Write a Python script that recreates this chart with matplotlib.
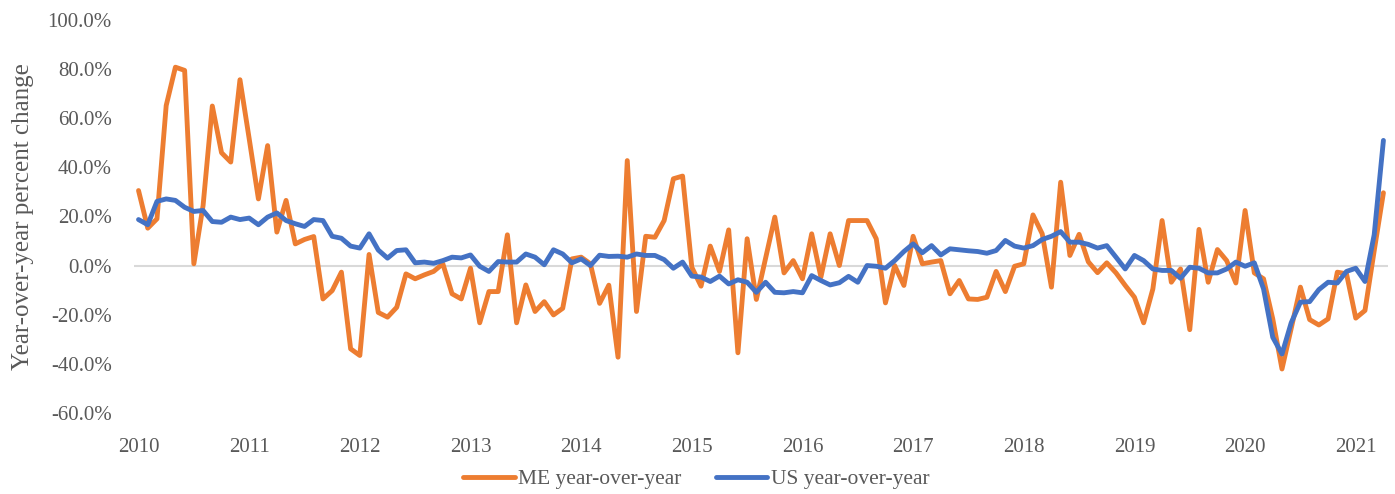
import matplotlib
matplotlib.use("Agg")
import matplotlib.pyplot as plt
from matplotlib.ticker import FuncFormatter
import numpy as np

# monthly, Jan 2010 .. Apr 2021 (year-over-year %)
me_yoy = [30.5, 15.2, 19.0, 65.1, 80.7, 79.4, 0.7, 24.4, 64.9, 45.9, 42.1, 75.6,
          51.6, 27.1, 48.8, 13.6, 26.5, 8.8, 10.6, 11.8, -13.6, -10.2, -2.7, -33.9,
          -36.6, 4.5, -19.1, -21.0, -17.0, -3.4, -5.4, -3.8, -2.4, 0.7, -11.5, -13.6,
          -1.1, -23.3, -10.6, -10.6, 12.5, -23.3, -7.9, -18.7, -14.7, -20.1, -17.4, 2.7,
          3.4, 0.7, -15.4, -8.0, -37.3, 42.7, -18.7, 11.9, 11.5, 18.3, 35.3, 36.4,
          -0.7, -8.4, 7.9, -2.4, 14.5, -35.5, 10.9, -13.8, 3.0, 19.7, -3.0, 2.0,
          -5.4, 12.9, -4.7, 12.9, 0.0, 18.3, 18.3, 18.3, 10.9, -15.2, 0.0, -8.1,
          11.9, 0.7, 1.4, 2.0, -11.5, -6.1, -13.6, -13.8, -12.9, -2.4, -10.6, -0.3,
          0.7, 20.6, 12.9, -8.8, 33.9, 4.1, 12.7, 1.5, -2.9, 1.1, -3.0, -8.1,
          -12.9, -23.3, -9.5, 18.3, -6.8, -1.4, -26.1, 14.7, -6.8, 6.5, 2.0, -7.1,
          22.4, -3.0, -5.4, -21.7, -42.1, -25.6, -8.8, -22.0, -24.2, -21.7, -2.7, -3.4,
          -21.4, -18.3, 6.0, 29.6]

us_yoy = [18.7, 16.6, 26.1, 27.1, 26.5, 23.7, 22.0, 22.4, 17.9, 17.6, 19.7, 18.7,
          19.3, 16.6, 19.7, 21.4, 18.3, 17.0, 15.9, 18.7, 18.3, 11.9, 11.1, 7.9,
          7.1, 12.9, 6.3, 3.0, 6.1, 6.4, 1.1, 1.4, 0.9, 2.0, 3.4, 3.1,
          4.3, -0.3, -2.4, 1.6, 1.4, 1.4, 4.7, 3.4, 0.3, 6.4, 4.7, 1.1,
          2.7, 0.0, 4.2, 3.7, 3.8, 3.4, 4.7, 4.1, 4.1, 2.4, -1.1, 1.4,
          -4.3, -4.7, -6.5, -4.3, -7.5, -5.8, -6.8, -10.9, -6.8, -10.9, -11.1, -10.6,
          -11.1, -4.1, -6.1, -7.9, -7.0, -4.4, -6.8, 0.0, -0.3, -1.1, 2.0, 5.7,
          8.8, 5.2, 8.1, 4.3, 6.8, 6.4, 6.0, 5.7, 5.0, 6.1, 10.2, 7.9,
          7.1, 8.1, 10.6, 11.9, 13.8, 9.5, 9.5, 8.6, 7.1, 8.1, 3.4, -1.4,
          4.1, 2.0, -1.4, -2.0, -2.0, -5.2, -0.7, -1.1, -3.0, -3.0, -1.4, 1.4,
          -0.3, 1.1, -9.5, -29.2, -36.0, -23.3, -14.9, -14.7, -9.8, -6.8, -7.1, -2.4,
          -1.1, -6.5, 12.5, 50.9]

years = [str(y) for y in range(2010, 2022)]
y_ticks = [-60, -40, -20, 0, 20, 40, 60, 80, 100]

GREY = "#595959"
plt.rcParams["font.family"] = ["Liberation Serif", "DejaVu Serif"]

fig = plt.figure(figsize=(13.95, 4.94), dpi=100)
ax = fig.add_axes([0.096, 0.164, 0.899, 0.796])

x = np.arange(len(me_yoy))
ax.axhline(0, color="#d9d9d9", linewidth=1.5, zorder=1)
ax.plot(x, me_yoy, color="#ED7D31", linewidth=3.5, label="ME year-over-year",
        solid_joinstyle="round", solid_capstyle="round", zorder=3)
ax.plot(x, us_yoy, color="#4472C4", linewidth=3.5, label="US year-over-year",
        solid_joinstyle="round", solid_capstyle="round", zorder=4)

ax.set_xlim(-0.5, len(me_yoy) - 0.5)
ax.set_ylim(-60, 100)
ax.set_xticks(np.arange(0, 12 * len(years), 12))
ax.set_xticklabels(years)
ax.set_yticks(y_ticks)
ax.yaxis.set_major_formatter(FuncFormatter(lambda v, p: "%.1f%%" % v))
ax.tick_params(axis="x", length=0, pad=18, labelsize=15, labelcolor=GREY)
ax.tick_params(axis="y", length=0, pad=16, labelsize=15, labelcolor=GREY)
for s in ax.spines.values():
    s.set_visible(False)

fig.text(0.0165, 0.562, "Year-over-year percent change", rotation=90,
         ha="center", va="center", fontsize=18, color=GREY)

leg = fig.legend(loc="center", bbox_to_anchor=(0.499, 0.03), ncol=2, frameon=False,
                 fontsize=15.5, handlelength=2.4, handletextpad=0.15, columnspacing=1.6)
for t in leg.get_texts():
    t.set_color(GREY)

fig.savefig("out.png", dpi=100)
